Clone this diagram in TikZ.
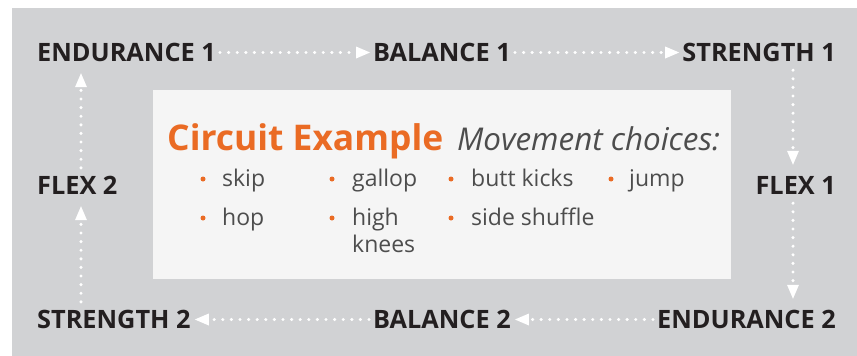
\documentclass[tikz,border=0pt]{standalone}
\usepackage{fontspec}
\setmainfont{Open Sans}
\newfontfamily\itemfont{Open Sans}
\usetikzlibrary{arrows.meta}
\definecolor{panel}{HTML}{D1D2D4}
\definecolor{card}{HTML}{F5F5F5}
\definecolor{ink}{HTML}{231F20}
\definecolor{soft}{HTML}{4D4D4D}
\definecolor{accent}{HTML}{EA6B24}
\tikzset{
  stage/.style={font=\fontsize{25.3}{27}\selectfont\bfseries, text=ink, inner sep=0pt,
    text height=17pt, text depth=0pt},
  flow/.style={draw=white, line width=3.4pt, line cap=round,
    dash pattern=on 0pt off 8.6pt, -{Triangle[length=14pt,width=12pt,line width=0pt]}},
  item/.style={font=\itemfont\fontsize{23}{27}\selectfont, text=soft, inner sep=0pt, anchor=base west,
    align=left},
  dot/.style={fill=accent, circle, inner sep=0pt, minimum size=5pt}
}
\begin{document}
\begin{tikzpicture}[x=1pt,y=-1pt]
\useasboundingbox (0,0) rectangle (857,356);
\fill[white] (0,0) rectangle (857,356);
\fill[panel] (12,8) rectangle (857,356);
\fill[card] (153,90) rectangle (731,279);

% circuit stations
\node[stage, anchor=base west] (e1) at (37,61) {ENDURANCE 1};
\node[stage, anchor=base west] (b1) at (373,61) {BALANCE 1};
\node[stage, anchor=base east] (s1) at (836,61) {STRENGTH 1};
\node[stage, anchor=base east] (f1) at (836,194) {FLEX 1};
\node[stage, anchor=base east] (e2) at (836,328) {ENDURANCE 2};
\node[stage, anchor=base west] (b2) at (373,328) {BALANCE 2};
\node[stage, anchor=base west] (s2) at (37,328) {STRENGTH 2};
\node[stage, anchor=base west] (f2) at (37,194) {FLEX 2};

\coordinate (rx) at (793,0);
\coordinate (lx) at (81,0);

% connectors between stations
\draw[flow, shorten <=4pt, shorten >=3pt] (e1.east) -- (b1.west);
\draw[flow, shorten <=4pt, shorten >=3pt] (b1.east) -- (s1.west);
\draw[flow, shorten <=9pt, shorten >=12pt] (s1.south -| rx) -- (f1.north -| rx);
\draw[flow, shorten <=9pt, shorten >=12pt] (f1.south -| rx) -- (e2.north -| rx);
\draw[flow, shorten <=4pt, shorten >=4pt] (e2.west) -- (b2.east);
\draw[flow, shorten <=4pt, shorten >=4pt] (b2.west) -- (s2.east);
\draw[flow, shorten <=9pt, shorten >=12pt] (s2.north -| lx) -- (f2.south -| lx);
\draw[flow, shorten <=9pt, shorten >=12pt] (f2.north -| lx) -- (e1.south -| lx);

% card contents
\node[anchor=base west, inner sep=0pt, text=accent, font=\itemfont\fontsize{35.4}{38}\selectfont\bfseries] (title) at (167,150) {Circuit Example};
\node[anchor=base west, inner sep=0pt, text=soft, font=\itemfont\fontsize{31.4}{34}\selectfont\itshape] (sub) at (457,150) {Movement choices:};

\node[item] (i1) at (222,186) {skip};
\node[item] (i2) at (222,225) {hop};
\node[item] (i3) at (352,186) {gallop};
\node[item] (i4) at (352,252) {high\\knees};
\node[item] (i5) at (471,186) {butt kicks};
\node[item] (i6) at (471,225) {side shuffle};
\node[item] (i7) at (629,186) {jump};

\node[dot] (d1) at (203,179) {};
\node[dot] (d2) at (203,218) {};
\node[dot] (d3) at (332,179) {};
\node[dot] (d4) at (332,218) {};
\node[dot] (d5) at (451,179) {};
\node[dot] (d6) at (451,218) {};
\node[dot] (d7) at (611,179) {};
\end{tikzpicture}
\end{document}
